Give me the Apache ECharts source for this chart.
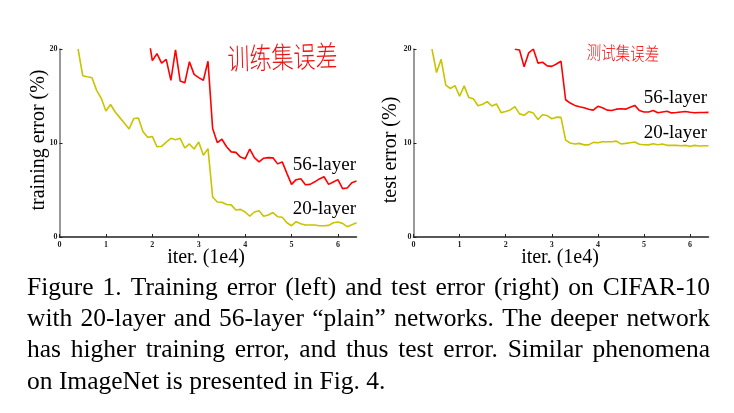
<!DOCTYPE html>
<html><head><meta charset="utf-8">
<script src="https://cdn.jsdelivr.net/npm/echarts@6/dist/echarts.min.js"></script>
<style>html,body{margin:0;padding:0;background:#fff}#c{width:734px;height:413px}</style>
</head><body><div id="c"></div>
<script>
// ---- data ----
const xTicks = [0, 1, 2, 3, 4, 5, 6];
const yTicks = [0, 10, 20];
const iter20 = [0.4,0.5,0.6,0.7,0.8,0.9,1.0,1.1,1.2,1.3,1.4,1.5,1.6,1.7,1.8,1.9,2.0,2.1,2.2,2.3,2.4,2.5,2.6,2.7,2.8,2.9,3.0,3.1,3.2,3.3,3.4,3.5,3.6,3.7,3.8,3.9,4.0,4.1,4.2,4.3,4.4,4.5,4.6,4.7,4.8,4.9,5.0,5.1,5.2,5.3,5.4,5.5,5.6,5.7,5.8,5.9,6.0,6.1,6.2,6.3,6.4];
const trainErr20 = [20,17.16,17.05,16.95,15.6,14.75,13.4,14.1,13.3,12.7,12.1,11.5,12.6,12.66,11.2,10.6,10.7,9.6,9.65,10.1,10.5,10.35,10.5,9.47,9.9,9.36,10.1,8.7,9.4,4.25,3.73,3.7,3.45,3.42,2.87,2.94,2.66,2.23,2.66,2.8,2.2,2.34,2.6,2.16,2.1,1.52,1.2,1.63,1.42,1.28,1.28,1.28,1.2,1.2,1.24,1.52,1.6,1.45,1.1,1.3,1.52];
const testErr20 = [20,17.5,18.9,16.15,15.8,16.1,14.97,16.08,14.83,14.7,13.97,14.12,14.4,13.94,14.15,13.23,13.35,13.52,13.87,13.1,12.95,13.35,13.18,12.5,13.0,12.92,12.58,12.75,12.73,10.3,10.0,9.9,9.96,9.8,9.8,10.07,10.03,10.14,10.14,10.14,10.2,9.9,9.96,10.03,10.1,9.86,9.82,9.8,9.93,9.82,9.9,9.75,9.75,9.75,9.7,9.75,9.65,9.75,9.68,9.7,9.7];
const iter56Train = [1.9,2.0,2.1,2.2,2.3,2.4,2.5,2.6,2.7,2.8,2.9,3.0,3.1,3.2,3.3,3.4,3.5,3.6,3.7,3.8,3.9,4.0,4.1,4.2,4.3,4.4,4.5,4.6,4.7,4.8,4.9,5.0,5.1,5.2,5.3,5.4,5.5,5.6,5.7,5.8,5.9,6.0,6.1,6.2,6.3,6.4];
const trainErr56 = [21.9,18.76,19.5,18.5,18.9,16.67,19.9,16.6,16.4,18.65,17.3,16.95,16.67,18.7,11.53,10.05,10.4,9.6,9.06,9.0,8.5,8.32,9.36,8.45,7.99,8.38,8.44,8.42,7.78,7.99,6.77,5.6,6.1,6.2,5.56,5.6,5.87,6.18,6.41,5.6,5.85,6.1,5.15,5.22,5.78,5.95];
const iter56Test = [2.2,2.3,2.4,2.5,2.6,2.7,2.8,2.9,3.0,3.1,3.2,3.3,3.4,3.5,3.6,3.7,3.8,3.9,4.0,4.1,4.2,4.3,4.4,4.5,4.6,4.7,4.8,4.9,5.0,5.1,5.2,5.3,5.4,5.5,5.6,5.7,5.8,5.9,6.0,6.1,6.2,6.3,6.4];
const testErr56 = [19.97,19.9,18.1,19.6,20.0,18.5,18.6,18.2,18.15,18.4,18.7,14.6,14.25,14.0,13.85,13.75,13.6,13.5,13.9,13.75,13.5,13.45,13.6,13.65,13.6,13.8,14.0,13.45,13.3,13.3,13.45,13.22,13.3,13.38,13.2,13.24,13.3,13.35,13.27,13.22,13.25,13.25,13.26];
const seriesNames = ['20-layer', '56-layer'];
const yTitles = ['training error (%)', 'test error (%)'];
const xTitle = 'iter. (1e4)';
const notes = ['训练集误差', '测试集误差'];
const captionLines = [
  'Figure 1. Training error (left) and test error (right) on CIFAR-10',
  'with 20-layer and 56-layer \u201cplain\u201d networks. The deeper network',
  'has higher training error, and thus test error.  Similar phenomena',
  'on ImageNet is presented in Fig. 4.'
];

// ---- chart ----
const SERIF = '"Liberation Serif", "Times New Roman", serif';
const YELLOW = '#c8c400', RED = '#ff0000';
const zip = (xs, ys) => xs.map((x, i) => [x, ys[i]]);

function xAx(gi) {
  return {
    type: 'value', gridIndex: gi, min: 0, max: 6.4,
    axisLine: { show: true, onZero: false, lineStyle: { color: '#222', width: 1.5 } },
    axisTick: { show: true, inside: true, length: 3, customValues: xTicks, lineStyle: { color: '#222' } },
    axisLabel: { customValues: xTicks, fontSize: 8, fontWeight: 'bold', fontFamily: SERIF, color: '#222', margin: 4 },
    splitLine: { show: false }
  };
}
function yAx(gi) {
  return {
    type: 'value', gridIndex: gi, min: 0, max: 20, interval: 10,
    axisLine: { show: true, onZero: false, lineStyle: { color: '#777', width: 1.5 } },
    axisTick: { show: true, inside: true, length: 3, customValues: yTicks, lineStyle: { color: '#222' } },
    axisLabel: { customValues: yTicks, fontSize: 8, fontWeight: 'bold', fontFamily: SERIF, color: '#222', margin: 2 },
    splitLine: { show: false }
  };
}
function line(gi, data, color) {
  return {
    type: 'line', xAxisIndex: gi, yAxisIndex: gi, data: data, showSymbol: false, symbol: 'none',
    clip: true, lineStyle: { color: color, width: 1.6 }, itemStyle: { color: color }, animation: false
  };
}

// caption words laid out justified
const capFont = 25.5;
const meas = document.createElement('canvas').getContext('2d');
meas.font = capFont + 'px ' + SERIF;
const capLeft = 27, capRight = 710;
const capBase = [296.5, 327.5, 359, 390.5];
const graphics = [];
captionLines.forEach((ln, li) => {
  const words = ln.split(/ +/);
  const widths = words.map(w => meas.measureText(w).width);
  const total = widths.reduce((a, b) => a + b, 0);
  const justify = li < captionLines.length - 1;
  const gap = justify ? (capRight - capLeft - total) / (words.length - 1) : meas.measureText(' ').width;
  let x = capLeft;
  words.forEach((w, i) => {
    graphics.push({ type: 'text', x: x, y: capBase[li] - capFont * 0.34,
      style: { text: w, font: capFont + 'px ' + SERIF, fill: '#000', align: 'left', verticalAlign: 'middle' } });
    x += widths[i] + gap;
  });
});

function txt(t, x, y, size, opts) {
  return Object.assign({ type: 'text', x: x, y: y,
    style: { text: t, font: size + 'px ' + SERIF, fill: '#000', align: 'center', verticalAlign: 'middle' } }, opts || {});
}
// axis titles
graphics.push(txt(yTitles[0], 38.5, 140, 20, { rotation: Math.PI / 2 }));
graphics.push(txt(yTitles[1], 391, 150, 20, { rotation: Math.PI / 2 }));
graphics.push(txt(xTitle, 206, 258, 20));
graphics.push(txt(xTitle, 560, 258, 20));
// series labels
const lab = (t, x, y) => ({ type: 'text', x: x, y: y,
  style: { text: t, font: '19px ' + SERIF, fill: '#000', align: 'right', verticalAlign: 'middle' } });
graphics.push(lab(seriesNames[1], 356, 165.5));
graphics.push(lab(seriesNames[0], 356, 209));
graphics.push(lab(seriesNames[1], 707, 98.5));
graphics.push(lab(seriesNames[0], 707, 133));
// handwritten notes
graphics.push({ type: 'text', x: 282.5, y: 57, scaleY: 1.35, rotation: 0.03,
  style: { text: notes[0], font: '300 22px "Noto Sans CJK SC"', fill: '#ee1111', align: 'center', verticalAlign: 'middle' } });
graphics.push({ type: 'text', x: 623, y: 53, scaleY: 1.3, rotation: -0.03,
  style: { text: notes[1], font: '300 14.5px "Noto Sans CJK SC"', fill: '#ee1111', align: 'center', verticalAlign: 'middle' } });

const chart = echarts.init(document.getElementById('c'), null, { renderer: 'canvas' });
chart.setOption({
  backgroundColor: '#fff',
  animation: false,
  grid: [
    { left: 59.5, top: 49, width: 297, height: 188 },
    { left: 413.5, top: 49, width: 295, height: 188 }
  ],
  xAxis: [xAx(0), xAx(1)],
  yAxis: [yAx(0), yAx(1)],
  series: [
    line(0, zip(iter20, trainErr20), YELLOW),
    line(0, zip(iter56Train, trainErr56), RED),
    line(1, zip(iter20, testErr20), YELLOW),
    line(1, zip(iter56Test, testErr56), RED)
  ],
  graphic: graphics
});
</script></body></html>
